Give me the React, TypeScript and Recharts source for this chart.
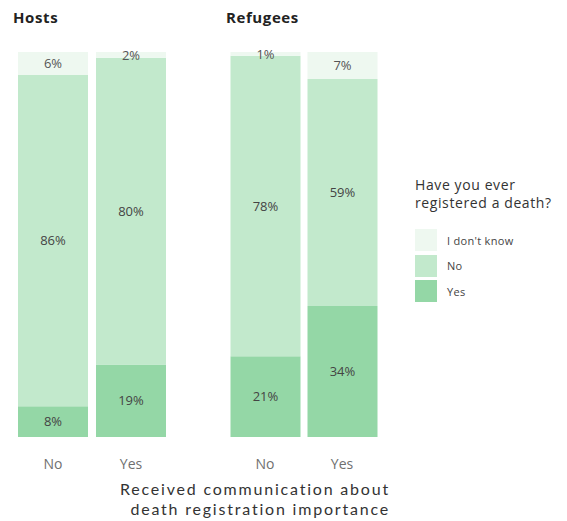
import React from "react";
import { BarChart, Bar, XAxis, YAxis, LabelList } from "recharts";

const categories = ["No", "Yes"];
const hostsYes = [8, 18.8];
const hostsNo = [86, 79.7];
const hostsDontKnow = [6, 1.5];
const refugeesYes = [21, 34];
const refugeesNo = [78, 59];
const refugeesDontKnow = [1, 7];

const legendItems = ["I don't know", "No", "Yes"];
const axisTitleLines = ["Received communication about", "death registration importance"];
const COLORS: Record<string, string> = {
  "I don't know": "#eef8f0",
  No: "#c2e9cc",
  Yes: "#94d7a6",
};

const FONT = "'Open Sans', Lato, sans-serif";
const TITLE_FONT = "Lato, 'Open Sans', sans-serif";

function build(yes: number[], no: number[], dk: number[]) {
  return categories.map((c, i) => ({ cat: c, Yes: yes[i], No: no[i], DK: dk[i] }));
}

const fmt = (v: any) => `${Math.round(Number(v))}%`;

function Panel({ data, left, plotLeft, plotRight }: { data: any[]; left: number; plotLeft: number; plotRight: number }) {
  const width = 200;
  const height = 480;
  return (
    <div style={{ position: "absolute", left, top: 0 }}>
      <BarChart
        width={width}
        height={height}
        data={data}
        margin={{ top: 52, left: plotLeft, right: width - plotRight, bottom: 0 }}
        barSize={70}
      >
        <XAxis
          dataKey="cat"
          axisLine={false}
          tickLine={false}
          tickSize={0}
          tickMargin={22}
          height={43}
          tick={{ fill: "#707070", fontSize: 14, fontFamily: FONT }}
        />
        <YAxis hide domain={[0, 100]} />
        <Bar dataKey="Yes" stackId="a" fill={COLORS.Yes} isAnimationActive={false}>
          <LabelList dataKey="Yes" position="center" formatter={fmt} fill="#444" fontSize={13} fontFamily={FONT} />
        </Bar>
        <Bar dataKey="No" stackId="a" fill={COLORS.No} isAnimationActive={false}>
          <LabelList dataKey="No" position="center" formatter={fmt} fill="#444" fontSize={13} fontFamily={FONT} />
        </Bar>
        <Bar dataKey="DK" stackId="a" fill={COLORS["I don't know"]} isAnimationActive={false}>
          <LabelList dataKey="DK" position="center" formatter={fmt} fill="#555" fontSize={13} fontFamily={FONT} />
        </Bar>
      </BarChart>
    </div>
  );
}

export default function App() {
  const hosts = build(hostsYes, hostsNo, hostsDontKnow);
  const refugees = build(refugeesYes, refugeesNo, refugeesDontKnow);
  return (
    <div
      style={{
        position: "absolute",
        left: 0,
        top: 0,
        width: 567,
        height: 521,
        background: "#fff",
        fontFamily: FONT,
        overflow: "hidden",
      }}
    >
      <div style={{ position: "absolute", left: 13, top: 7, fontSize: 15, fontWeight: 700, color: "#222", letterSpacing: 0.6 }}>Hosts</div>
      <div style={{ position: "absolute", left: 226, top: 7, fontSize: 15, fontWeight: 700, color: "#222", letterSpacing: 0.6 }}>Refugees</div>
      <Panel data={hosts} left={0} plotLeft={14} plotRight={170} />
      <Panel data={refugees} left={212} plotLeft={14.5} plotRight={168.5} />
      {axisTitleLines.map((t, i) => (
        <div
          key={t}
          style={{
            position: "absolute",
            left: 40,
            width: 350,
            top: 479 + i * 20,
            height: 20,
            textAlign: "right",
            fontSize: 16,
            lineHeight: "20px",
            fontFamily: TITLE_FONT,
            color: "#333",
            letterSpacing: 1.8,
            whiteSpace: "nowrap",
          }}
        >
          {t}
        </div>
      ))}
      <div style={{ position: "absolute", left: 415, top: 176, fontSize: 14, lineHeight: "18px", color: "#333", letterSpacing: 0.6 }}>
        Have you ever
        <br />
        registered a death?
      </div>
      {legendItems.map((k, i) => (
        <div key={k} style={{ position: "absolute", left: 415, top: 229 + i * 25.5, display: "flex", alignItems: "center" }}>
          <div style={{ width: 22, height: 22, background: COLORS[k] }} />
          <div style={{ marginLeft: 10, fontSize: 11, color: "#444", letterSpacing: 0.3 }}>{k}</div>
        </div>
      ))}
    </div>
  );
}
